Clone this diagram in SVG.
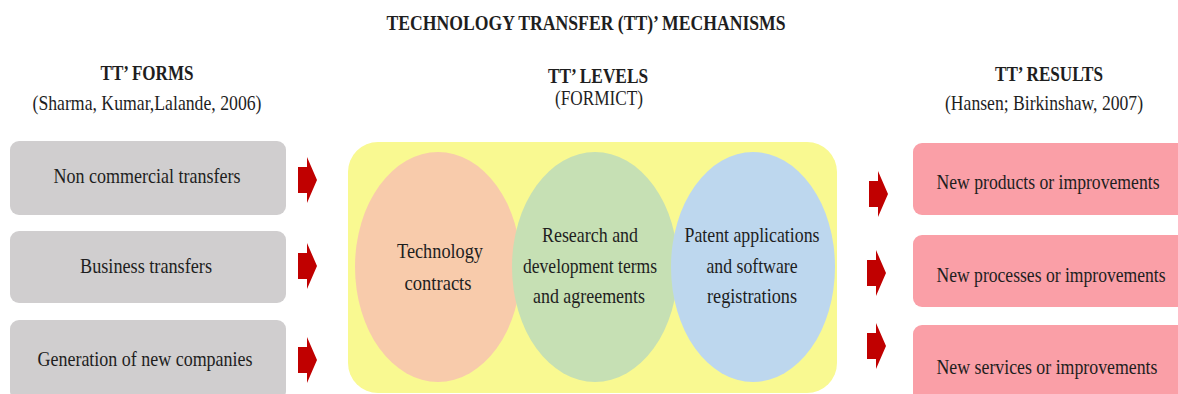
<svg xmlns="http://www.w3.org/2000/svg" width="1178" height="394" viewBox="0 0 1178 394">
  <style>
    text { font-family: "Liberation Serif", "Times New Roman", serif; fill: #1e1e1e; text-anchor: middle; font-size: 21px; }
    .bold { font-weight: bold; }
    .form { fill: #d0cecf; }
    .result { fill: #fa9fa7; }
    .arrow { fill: #c00000; }
  </style>
  <defs>
    <path id="blockArrow" d="M0,-13 H9 V-23 L19,0 L9,23 V13 H0 Z"/>
  </defs>
  <rect width="1178" height="394" fill="#ffffff"/>

  <!-- Headings (condensed serif: horizontal scale 0.82) -->
  <g id="headings">
    <text class="bold" transform="translate(586 30) scale(0.82 1)" textLength="486.6" lengthAdjust="spacingAndGlyphs">TECHNOLOGY  TRANSFER  (TT)’  MECHANISMS</text>
    <text class="bold" transform="translate(147 80) scale(0.82 1)" textLength="113.4" lengthAdjust="spacingAndGlyphs">TT’ FORMS</text>
    <text transform="translate(147 110) scale(0.82 1)" textLength="279.3" lengthAdjust="spacingAndGlyphs">(Sharma,  Kumar,Lalande,  2006)</text>
    <text class="bold" transform="translate(598 83) scale(0.82 1)" textLength="122" lengthAdjust="spacingAndGlyphs">TT’ LEVELS</text>
    <text transform="translate(599 105) scale(0.82 1)" textLength="107.3" lengthAdjust="spacingAndGlyphs">(FORMICT)</text>
    <text class="bold" transform="translate(1049 81) scale(0.82 1)" textLength="131.7" lengthAdjust="spacingAndGlyphs">TT’ RESULTS</text>
    <text transform="translate(1044 110) scale(0.82 1)" textLength="241.5" lengthAdjust="spacingAndGlyphs">(Hansen; Birkinshaw,  2007)</text>
  </g>

  <!-- Forms column -->
  <g id="form-noncommercial">
    <rect class="form" x="10" y="141" width="276" height="74" rx="9"/>
    <text transform="translate(147 183) scale(0.82 1)" textLength="228" lengthAdjust="spacingAndGlyphs">Non commercial  transfers</text>
  </g>
  <g id="form-business">
    <rect class="form" x="10" y="231" width="276" height="72" rx="9"/>
    <text transform="translate(146 273) scale(0.82 1)" textLength="161" lengthAdjust="spacingAndGlyphs">Business transfers</text>
  </g>
  <g id="form-newcompanies">
    <rect class="form" x="10" y="320" width="276" height="80" rx="9"/>
    <text transform="translate(145 366) scale(0.82 1)" textLength="262.2" lengthAdjust="spacingAndGlyphs">Generation  of new companies</text>
  </g>

  <!-- Levels panel -->
  <g id="levels">
    <rect x="348" y="142" width="489" height="251" rx="30" fill="#f9f991"/>
    <g id="level-contracts">
      <ellipse cx="438" cy="267" rx="83" ry="115" fill="#f8cbab"/>
      <text transform="translate(440 258) scale(0.82 1)" textLength="104.9" lengthAdjust="spacingAndGlyphs">Technology</text>
      <text transform="translate(438 290) scale(0.82 1)" textLength="81.7" lengthAdjust="spacingAndGlyphs">contracts</text>
    </g>
    <g id="level-rnd">
      <ellipse cx="595" cy="267" rx="83" ry="115" fill="#c6e0b4"/>
      <text transform="translate(590 242) scale(0.82 1)" textLength="117.1" lengthAdjust="spacingAndGlyphs">Research and</text>
      <text transform="translate(590 273) scale(0.82 1)" textLength="163.4" lengthAdjust="spacingAndGlyphs">development terms</text>
      <text transform="translate(589 303) scale(0.82 1)" textLength="136.6" lengthAdjust="spacingAndGlyphs">and agreements</text>
    </g>
    <g id="level-patents">
      <ellipse cx="753" cy="267" rx="82" ry="115" fill="#bdd7ee"/>
      <text transform="translate(752 242) scale(0.82 1)" textLength="164.6" lengthAdjust="spacingAndGlyphs">Patent applications</text>
      <text transform="translate(752 273) scale(0.82 1)" textLength="111" lengthAdjust="spacingAndGlyphs">and software</text>
      <text transform="translate(752 303) scale(0.82 1)" textLength="109.8" lengthAdjust="spacingAndGlyphs">registrations</text>
    </g>
  </g>

  <!-- Results column -->
  <g id="result-products">
    <rect class="result" x="913" y="143" width="280" height="72" rx="9"/>
    <text transform="translate(1048 189) scale(0.82 1)" textLength="272" lengthAdjust="spacingAndGlyphs">New products or improvements</text>
  </g>
  <g id="result-processes">
    <rect class="result" x="913" y="235" width="280" height="72" rx="9"/>
    <text transform="translate(1051 282) scale(0.82 1)" textLength="279.3" lengthAdjust="spacingAndGlyphs">New processes or improvements</text>
  </g>
  <g id="result-services">
    <rect class="result" x="913" y="325" width="280" height="80" rx="9"/>
    <text transform="translate(1047 374) scale(0.82 1)" textLength="269.5" lengthAdjust="spacingAndGlyphs">New  services or improvements</text>
  </g>

  <!-- Connectors: block arrows -->
  <g id="connectors">
    <use href="#blockArrow" class="arrow" x="298" y="180"/>
    <use href="#blockArrow" class="arrow" x="298" y="266"/>
    <use href="#blockArrow" class="arrow" x="298" y="360"/>
    <use href="#blockArrow" class="arrow" x="869" y="194"/>
    <use href="#blockArrow" class="arrow" x="867" y="273"/>
    <use href="#blockArrow" class="arrow" x="867" y="346"/>
  </g>
</svg>
